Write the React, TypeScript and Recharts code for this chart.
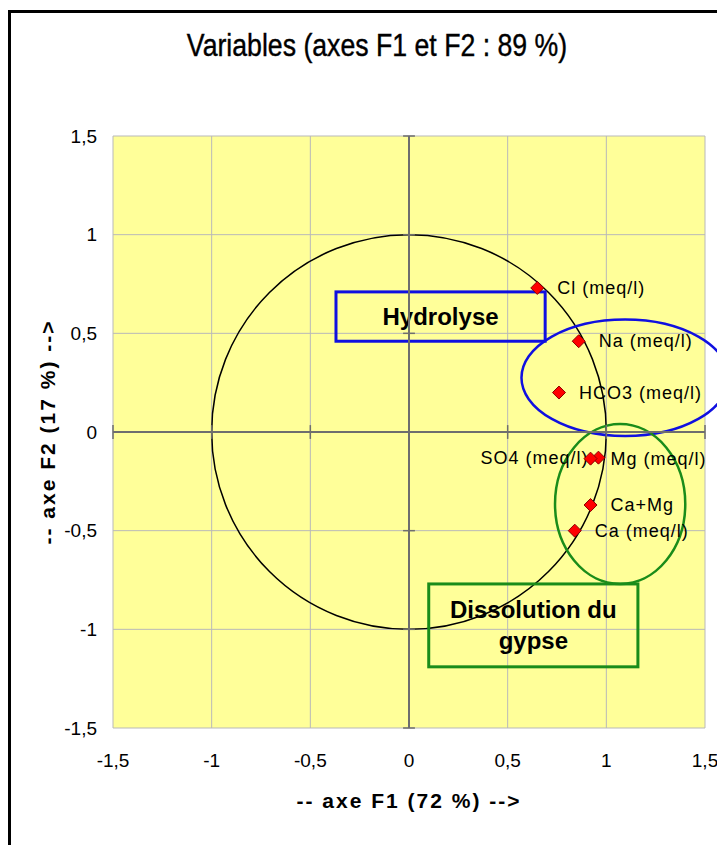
import React from "react";
import {
  ScatterChart,
  Scatter,
  XAxis,
  YAxis,
  CartesianGrid,
  ReferenceLine,
  ReferenceArea,
} from "recharts";

// variables projected on the F1 / F2 plane
const variables = [
  "Cl (meq/l)",
  "Na (meq/l)",
  "HCO3 (meq/l)",
  "SO4 (meq/l)",
  "Mg (meq/l)",
  "Ca+Mg",
  "Ca (meq/l)",
];
const f1 = [0.65, 0.86, 0.76, 0.96, 0.92, 0.92, 0.84];
const f2 = [0.73, 0.46, 0.2, -0.13, -0.135, -0.37, -0.5];
const labelSide = ["right", "right", "right", "left", "right", "right", "right"];

const axisTicks = [-1.5, -1, -0.5, 0, 0.5, 1, 1.5];

// annotations (in axis units)
const hydrolyseBox = [-0.37, 0.69, 0.46, 0.71];
const gypseBox = [0.1, 1.16, -1.19, -0.77];
const blueEllipse = [0.57, 1.62, -0.02, 0.57];
const greenEllipse = [0.74, 1.4, -0.77, 0.04];
const unitCircle = [-1, 1, -1, 1];

const FONT = '"Liberation Sans", Arial, sans-serif';

const data = variables.map((name, i) => ({
  name,
  x: f1[i],
  y: f2[i],
  side: labelSide[i],
}));

const fmt = (v: number) => String(v).replace(".", ",");

const PointMark = (p: any) => {
  const { cx, cy, payload } = p;
  const s = 6.5;
  const left = payload.side === "left";
  return (
    <g>
      <polygon
        points={`${cx},${cy - s} ${cx + s},${cy} ${cx},${cy + s} ${cx - s},${cy}`}
        fill="#ff0000"
        stroke="#8b0000"
        strokeWidth={1}
      />
      <text
        x={left ? cx - 10 : cx + 20}
        y={cy}
        dominantBaseline="central"
        textAnchor={left ? "end" : "start"}
        fontFamily={FONT}
        fontSize={18}
        letterSpacing={1}
        fill="#000"
      >
        {payload.name}
      </text>
    </g>
  );
};

const ellipseShape = (color: string, width: number) => (p: any) => (
  <ellipse
    cx={p.x + p.width / 2}
    cy={p.y + p.height / 2}
    rx={Math.abs(p.width) / 2}
    ry={Math.abs(p.height) / 2}
    fill="none"
    stroke={color}
    strokeWidth={width}
  />
);

const boxShape = (color: string, lines: string[]) => (p: any) => {
  const cx = p.x + p.width / 2;
  const cy = p.y + p.height / 2;
  const lh = 31;
  return (
    <g>
      <rect
        x={p.x}
        y={p.y}
        width={p.width}
        height={p.height}
        fill="none"
        stroke={color}
        strokeWidth={3}
      />
      {lines.map((t, i) => (
        <text
          key={t}
          x={cx}
          y={cy + (i - (lines.length - 1) / 2) * lh}
          textAnchor="middle"
          dominantBaseline="central"
          fontFamily={FONT}
          fontSize={24}
          fontWeight="bold"
          fill="#000"
        >
          {t}
        </text>
      ))}
    </g>
  );
};

export default function App() {
  return (
    <div style={{ position: "relative", width: 717, height: 837 }}>
      <div
        style={{
          position: "absolute",
          left: 0,
          top: 2,
          width: 717,
          height: 900,
          border: "3px solid #000",
          boxSizing: "border-box",
        }}
      />
      <div
        style={{
          position: "absolute",
          left: 69,
          top: 20,
          width: 600,
          textAlign: "center",
          whiteSpace: "nowrap",
          fontFamily: FONT,
          fontSize: 31,
          lineHeight: "36px",
          color: "#000",
          transform: "scaleX(0.86)",
          WebkitTextStroke: "0.4px #000",
        }}
      >
        Variables (axes F1 et F2 : 89 %)
      </div>
      <div style={{ position: "absolute", left: 0, top: 0 }}>
        <ScatterChart
          width={717}
          height={837}
          margin={{ top: 128, right: 20, bottom: 27, left: 25 }}
        >
          <CartesianGrid stroke="#b9b9b9" fill="#ffff99" />
          <XAxis
            type="number"
            dataKey="x"
            domain={[-1.5, 1.5]}
            ticks={axisTicks}
            tickFormatter={fmt}
            axisLine={false}
            tickLine={false}
            tickSize={0}
            tickMargin={26}
            height={90}
            tick={{ fontSize: 19, fill: "#000", fontFamily: FONT }}
            label={{
              content: (p: any) => (
                <text
                  x={p.viewBox.x + p.viewBox.width / 2}
                  y={p.viewBox.y + 72}
                  textAnchor="middle"
                  dominantBaseline="central"
                  fontFamily={FONT}
                  fontSize={21}
                  fontWeight="bold"
                  letterSpacing={2}
                  fill="#000"
                >
                  -- axe F1 (72 %) --&gt;
                </text>
              ),
            }}
          />
          <YAxis
            type="number"
            dataKey="y"
            domain={[-1.5, 1.5]}
            ticks={axisTicks}
            tickFormatter={fmt}
            axisLine={false}
            tickLine={false}
            tickSize={0}
            tickMargin={16}
            width={80}
            tick={{ fontSize: 19, fill: "#000", fontFamily: FONT }}
            label={{
              content: (p: any) => {
                const x = p.viewBox.x + 14;
                const y = p.viewBox.y + p.viewBox.height / 2;
                return (
                  <text
                    x={x}
                    y={y}
                    transform={`rotate(-90 ${x} ${y})`}
                    textAnchor="middle"
                    dominantBaseline="central"
                    fontFamily={FONT}
                    fontSize={21}
                    fontWeight="bold"
                    letterSpacing={2}
                    fill="#000"
                  >
                    -- axe F2 (17 %) --&gt;
                  </text>
                );
              },
            }}
          />
          <ReferenceLine x={0} stroke="#6e6e6e" strokeWidth={2} />
          <ReferenceLine y={0} stroke="#6e6e6e" strokeWidth={2} />
          {axisTicks
            .filter((t) => t !== 0)
            .map((t) => (
              <ReferenceLine
                key={"tx" + t}
                segment={[
                  { x: t, y: -0.035 },
                  { x: t, y: 0.035 },
                ]}
                stroke="#6e6e6e"
                strokeWidth={1.5}
              />
            ))}
          {axisTicks
            .filter((t) => t !== 0)
            .map((t) => (
              <ReferenceLine
                key={"ty" + t}
                segment={[
                  { x: -0.03, y: t },
                  { x: 0.03, y: t },
                ]}
                stroke="#6e6e6e"
                strokeWidth={1.5}
              />
            ))}
          <ReferenceArea
            x1={unitCircle[0]}
            x2={unitCircle[1]}
            y1={unitCircle[2]}
            y2={unitCircle[3]}
            ifOverflow="visible"
            shape={ellipseShape("#000", 1.5)}
          />
          <ReferenceArea
            x1={hydrolyseBox[0]}
            x2={hydrolyseBox[1]}
            y1={hydrolyseBox[2]}
            y2={hydrolyseBox[3]}
            ifOverflow="visible"
            shape={boxShape("#1010e0", ["Hydrolyse"])}
          />
          <ReferenceArea
            x1={gypseBox[0]}
            x2={gypseBox[1]}
            y1={gypseBox[2]}
            y2={gypseBox[3]}
            ifOverflow="visible"
            shape={boxShape("#1a8c1a", ["Dissolution du", "gypse"])}
          />
          <Scatter
            data={data}
            shape={PointMark}
            isAnimationActive={false}
          />
          <ReferenceArea
            x1={blueEllipse[0]}
            x2={blueEllipse[1]}
            y1={blueEllipse[2]}
            y2={blueEllipse[3]}
            ifOverflow="visible"
            shape={ellipseShape("#1010e0", 2.5)}
          />
          <ReferenceArea
            x1={greenEllipse[0]}
            x2={greenEllipse[1]}
            y1={greenEllipse[2]}
            y2={greenEllipse[3]}
            ifOverflow="visible"
            shape={ellipseShape("#1a8c1a", 2.5)}
          />
        </ScatterChart>
      </div>
    </div>
  );
}
